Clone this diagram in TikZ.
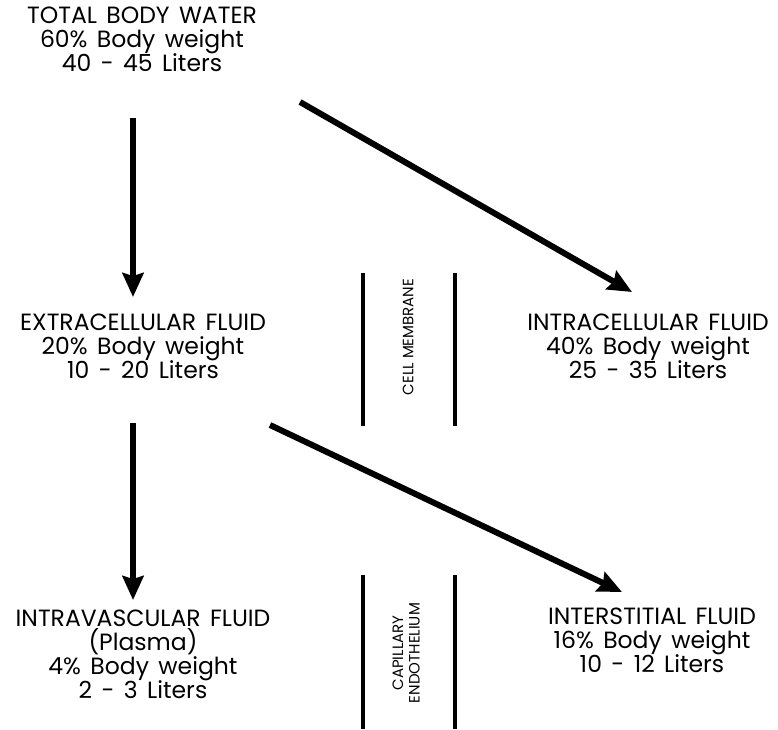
\documentclass[tikz,border=0pt]{standalone}
\usepackage{fontspec}
\setmainfont{Poppins}
\usepackage{tikz}
\usetikzlibrary{arrows.meta}
\newcommand{\fluidfont}{\fontsize{23.5}{24}\selectfont\lineskiplimit=-100pt\spaceskip=0.4em plus 0.1em\relax}
\newcommand{\barrierfont}{\fontsize{15}{16.5}\selectfont\lineskiplimit=-100pt\relax}
\tikzstyle{fluid} = [align=center, inner sep=0pt, font=\fluidfont]
\tikzstyle{barrier} = [align=center, inner sep=0pt, rotate=90, font=\barrierfont]
\tikzstyle{flowarrow} = [line width=6pt, -{Stealth[length=24pt,width=21pt,inset=3pt]}]
\tikzstyle{wall} = [line width=3.5pt]

\begin{document}
\begin{tikzpicture}[x=1pt, y=-1pt]
\useasboundingbox (0,0) rectangle (778,729);

% Compartments
\node[fluid] (tbw) at (142,39) {TOTAL BODY WATER\\60\% Body weight\\40 - 45 Liters};
\node[fluid] (ecf) at (143,346) {EXTRACELLULAR FLUID\\20\% Body weight\\10 - 20 Liters};
\node[fluid] (icf) at (648,346) {INTRACELLULAR FLUID\\40\% Body weight\\25 - 35 Liters};
\node[fluid] (ivf) at (143,654) {INTRAVASCULAR FLUID\\(Plasma)\\4\% Body weight\\2 - 3 Liters};
\node[fluid] (isf) at (652,640) {INTERSTITIAL FLUID\\16\% Body weight\\10 - 12 Liters};

% Barriers
\draw[wall] (363,273) -- (363,426);
\draw[wall] (455,273) -- (455,426);
\draw[wall] (363,575) -- (363,729);
\draw[wall] (455,575) -- (455,729);
\node[barrier] (cm) at (408,337) {CELL MEMBRANE};
\node[barrier] (ce) at (406,653) {CAPILLARY\\ENDOTHELIUM};

% Arrows
\draw[flowarrow] ([shift={(-9,79)}]tbw.center) -- ([shift={(-10,-49)}]ecf.center);
\draw[flowarrow] ([shift={(158,63)}]tbw.center) -- ([shift={(-16,-54)}]icf.center);
\draw[flowarrow] ([shift={(-10,77)}]ecf.center) -- ([shift={(-10,-54)}]ivf.center);
\draw[flowarrow] ([shift={(127,79)}]ecf.center) -- ([shift={(-30,-48)}]isf.center);
\end{tikzpicture}
\end{document}
